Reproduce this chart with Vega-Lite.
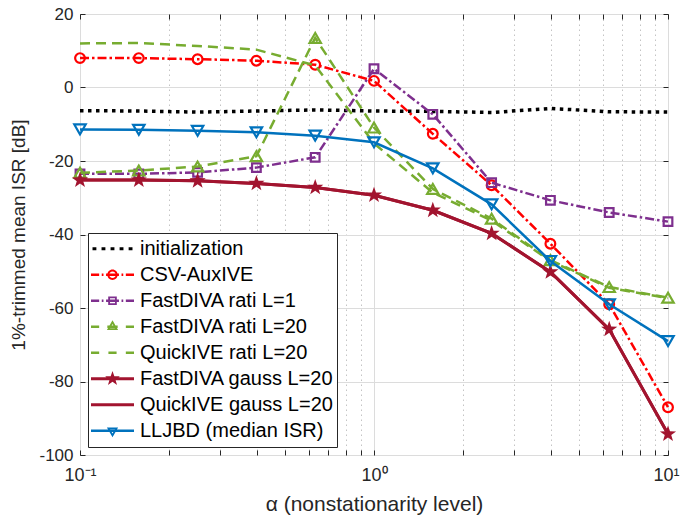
{
  "$schema": "https://vega.github.io/schema/vega-lite/v6.json",
  "width": 588,
  "height": 441,
  "autosize": {"type": "none"},
  "padding": {"left": 80, "top": 14, "right": 12, "bottom": 64},
  "background": "white",
  "config": {
    "view": {"stroke": "#262626", "strokeWidth": 1},
    "font": "Liberation Sans"
  },
  "datasets": {
    "d": [
      {"s": "initialization", "a": 0.1, "v": -6.3},
      {"s": "initialization", "a": 0.1585, "v": -6.4},
      {"s": "initialization", "a": 0.2512, "v": -6.7},
      {"s": "initialization", "a": 0.3981, "v": -6.4},
      {"s": "initialization", "a": 0.631, "v": -6.1},
      {"s": "initialization", "a": 1, "v": -6.4},
      {"s": "initialization", "a": 1.585, "v": -6.5},
      {"s": "initialization", "a": 2.512, "v": -6.8},
      {"s": "initialization", "a": 3.981, "v": -5.7},
      {"s": "initialization", "a": 6.31, "v": -6.6},
      {"s": "initialization", "a": 10, "v": -6.7},
      {"s": "CSV-AuxIVE", "a": 0.1, "v": 8},
      {"s": "CSV-AuxIVE", "a": 0.1585, "v": 8},
      {"s": "CSV-AuxIVE", "a": 0.2512, "v": 7.7},
      {"s": "CSV-AuxIVE", "a": 0.3981, "v": 7.3},
      {"s": "CSV-AuxIVE", "a": 0.631, "v": 6.2},
      {"s": "CSV-AuxIVE", "a": 1, "v": 1.8},
      {"s": "CSV-AuxIVE", "a": 1.585, "v": -12.6},
      {"s": "CSV-AuxIVE", "a": 2.512, "v": -26.6},
      {"s": "CSV-AuxIVE", "a": 3.981, "v": -42.5},
      {"s": "CSV-AuxIVE", "a": 6.31, "v": -59},
      {"s": "CSV-AuxIVE", "a": 10, "v": -87},
      {"s": "FastDIVA rati L=1", "a": 0.1, "v": -23.5},
      {"s": "FastDIVA rati L=1", "a": 0.1585, "v": -23.5},
      {"s": "FastDIVA rati L=1", "a": 0.2512, "v": -23.1},
      {"s": "FastDIVA rati L=1", "a": 0.3981, "v": -21.8},
      {"s": "FastDIVA rati L=1", "a": 0.631, "v": -19},
      {"s": "FastDIVA rati L=1", "a": 1, "v": 5.1},
      {"s": "FastDIVA rati L=1", "a": 1.585, "v": -7.3},
      {"s": "FastDIVA rati L=1", "a": 2.512, "v": -25.9},
      {"s": "FastDIVA rati L=1", "a": 3.981, "v": -30.7},
      {"s": "FastDIVA rati L=1", "a": 6.31, "v": -34},
      {"s": "FastDIVA rati L=1", "a": 10, "v": -36.5},
      {"s": "FastDIVA rati L=20", "a": 0.1, "v": -23.2},
      {"s": "FastDIVA rati L=20", "a": 0.1585, "v": -22.6},
      {"s": "FastDIVA rati L=20", "a": 0.2512, "v": -21.5},
      {"s": "FastDIVA rati L=20", "a": 0.3981, "v": -18.7},
      {"s": "FastDIVA rati L=20", "a": 0.631, "v": 13.5},
      {"s": "FastDIVA rati L=20", "a": 1, "v": -10.9},
      {"s": "FastDIVA rati L=20", "a": 1.585, "v": -27.6},
      {"s": "FastDIVA rati L=20", "a": 2.512, "v": -35.7},
      {"s": "FastDIVA rati L=20", "a": 3.981, "v": -47},
      {"s": "FastDIVA rati L=20", "a": 6.31, "v": -54.3},
      {"s": "FastDIVA rati L=20", "a": 10, "v": -57.2},
      {"s": "QuickIVE rati L=20", "a": 0.1, "v": 12},
      {"s": "QuickIVE rati L=20", "a": 0.1585, "v": 12.1},
      {"s": "QuickIVE rati L=20", "a": 0.2512, "v": 11.3},
      {"s": "QuickIVE rati L=20", "a": 0.3981, "v": 10.3},
      {"s": "QuickIVE rati L=20", "a": 0.631, "v": 6},
      {"s": "QuickIVE rati L=20", "a": 1, "v": -15.2},
      {"s": "QuickIVE rati L=20", "a": 1.585, "v": -28.6},
      {"s": "QuickIVE rati L=20", "a": 2.512, "v": -36.2},
      {"s": "QuickIVE rati L=20", "a": 3.981, "v": -47.2},
      {"s": "QuickIVE rati L=20", "a": 6.31, "v": -54.5},
      {"s": "QuickIVE rati L=20", "a": 10, "v": -57.3},
      {"s": "FastDIVA gauss L=20", "a": 0.1, "v": -25.2},
      {"s": "FastDIVA gauss L=20", "a": 0.1585, "v": -25.2},
      {"s": "FastDIVA gauss L=20", "a": 0.2512, "v": -25.4},
      {"s": "FastDIVA gauss L=20", "a": 0.3981, "v": -26.1},
      {"s": "FastDIVA gauss L=20", "a": 0.631, "v": -27.2},
      {"s": "FastDIVA gauss L=20", "a": 1, "v": -29.3},
      {"s": "FastDIVA gauss L=20", "a": 1.585, "v": -33.4},
      {"s": "FastDIVA gauss L=20", "a": 2.512, "v": -39.7},
      {"s": "FastDIVA gauss L=20", "a": 3.981, "v": -50.2},
      {"s": "FastDIVA gauss L=20", "a": 6.31, "v": -65.8},
      {"s": "FastDIVA gauss L=20", "a": 10, "v": -94.3},
      {"s": "QuickIVE gauss L=20", "a": 0.1, "v": -25.2},
      {"s": "QuickIVE gauss L=20", "a": 0.1585, "v": -25.2},
      {"s": "QuickIVE gauss L=20", "a": 0.2512, "v": -25.4},
      {"s": "QuickIVE gauss L=20", "a": 0.3981, "v": -26.1},
      {"s": "QuickIVE gauss L=20", "a": 0.631, "v": -27.2},
      {"s": "QuickIVE gauss L=20", "a": 1, "v": -29.3},
      {"s": "QuickIVE gauss L=20", "a": 1.585, "v": -33.4},
      {"s": "QuickIVE gauss L=20", "a": 2.512, "v": -39.7},
      {"s": "QuickIVE gauss L=20", "a": 3.981, "v": -50.2},
      {"s": "QuickIVE gauss L=20", "a": 6.31, "v": -65.8},
      {"s": "QuickIVE gauss L=20", "a": 10, "v": -94.3},
      {"s": "LLJBD (median ISR)", "a": 0.1, "v": -11.4},
      {"s": "LLJBD (median ISR)", "a": 0.1585, "v": -11.5},
      {"s": "LLJBD (median ISR)", "a": 0.2512, "v": -11.8},
      {"s": "LLJBD (median ISR)", "a": 0.3981, "v": -12.2},
      {"s": "LLJBD (median ISR)", "a": 0.631, "v": -13.1},
      {"s": "LLJBD (median ISR)", "a": 1, "v": -14.9},
      {"s": "LLJBD (median ISR)", "a": 1.585, "v": -22},
      {"s": "LLJBD (median ISR)", "a": 2.512, "v": -31.8},
      {"s": "LLJBD (median ISR)", "a": 3.981, "v": -47.2},
      {"s": "LLJBD (median ISR)", "a": 6.31, "v": -59},
      {"s": "LLJBD (median ISR)", "a": 10, "v": -69}
    ]
  },
  "data": {"name": "d"},
  "encoding": {
    "x": {"field": "a", "type": "quantitative", "scale": {"type": "log", "domain": [0.1, 10]}, "axis": null},
    "y": {"field": "v", "type": "quantitative", "scale": {"domain": [-100, 20]}, "axis": null}
  },
  "resolve": {"axis": {"x": "independent", "y": "independent"}},
  "layer": [
    {
      "mark": {"type": "point", "opacity": 0},
      "encoding": {
        "x": {"field": "a", "type": "quantitative", "scale": {"type": "log", "domain": [0.1, 10]},
          "axis": {"orient": "bottom", "values": [0.1,0.2,0.3,0.4,0.5,0.6,0.7,0.8,0.9,1,2,3,4,5,6,7,8,9,10],
            "labelExpr": "datum.value == 0.1 ? '10⁻¹' : (datum.value == 1 ? '10⁰' : (datum.value == 10 ? '10¹' : ''))",
            "labelOverlap": false, "labelBound": false, "labelFlush": false,
            "labelAlign": {"condition": {"test": "datum.value == 10", "value": "right"}, "value": "center"},
            "labelOffset": {"condition": {"test": "datum.value == 10", "value": 11}, "value": 0},
            "labelFont": "Liberation Sans", "labelFontSize": 18, "labelColor": "#262626", "labelPadding": 16,
            "grid": true,
            "gridColor": {"condition": {"test": "datum.value == 0.1 || datum.value == 1 || datum.value == 10", "value": "#dcdcdc"}, "value": "#c4c4c4"},
            "gridDash": {"condition": {"test": "datum.value == 0.1 || datum.value == 1 || datum.value == 10", "value": []}, "value": [1.5, 3.5]},
            "domain": false, "ticks": true, "tickSize": -5, "tickColor": "#262626", "tickWidth": 1,
            "title": "α (nonstationarity level)", "titleFont": "Liberation Sans", "titleFontSize": 21, "titleFontWeight": "normal", "titleColor": "#262626", "titlePadding": 9}},
        "y": {"field": "v", "type": "quantitative", "scale": {"domain": [-100, 20]},
          "axis": {"orient": "left", "values": [-100,-80,-60,-40,-20,0,20],
            "labelExpr": "'' + datum.value",
            "labelFont": "Liberation Sans", "labelFontSize": 17, "labelColor": "#262626", "labelPadding": 12,
            "grid": true, "gridColor": "#dcdcdc",
            "domain": false, "ticks": true, "tickSize": -5, "tickColor": "#262626", "tickWidth": 1,
            "title": "1%-trimmed mean ISR [dB]", "titleFont": "Liberation Sans", "titleFontSize": 19, "titleFontWeight": "normal", "titleColor": "#262626", "titlePadding": 10}}
      }
    },
    {
      "mark": {"type": "point", "opacity": 0},
      "encoding": {
        "x": {"field": "a", "type": "quantitative", "scale": {"type": "log", "domain": [0.1, 10]},
          "axis": {"orient": "top", "values": [0.1,0.2,0.3,0.4,0.5,0.6,0.7,0.8,0.9,1,2,3,4,5,6,7,8,9,10], "labels": false, "grid": false, "domain": false, "tickSize": -5, "tickColor": "#262626", "title": null}},
        "y": {"field": "v", "type": "quantitative", "scale": {"domain": [-100, 20]},
          "axis": {"orient": "right", "values": [-100,-80,-60,-40,-20,0,20], "labels": false, "grid": false, "domain": false, "tickSize": -5, "tickColor": "#262626", "title": null}}
      }
    },
    {
      "transform": [{"filter": "datum.s == 'initialization'"}],
      "mark": {"type": "line", "color": "#000000", "strokeWidth": 3.5, "strokeDash": [3.5, 4.5]},
      "encoding": {}
    },
    {
      "transform": [{"filter": "datum.s == 'CSV-AuxIVE'"}],
      "mark": {"type": "line", "color": "#FF0000", "strokeWidth": 2.5, "strokeDash": [9, 3, 2.5, 3]},
      "encoding": {}
    },
    {
      "transform": [{"filter": "datum.s == 'CSV-AuxIVE'"}],
      "mark": {"type": "point", "shape": "circle", "filled": false, "color": "#FF0000", "strokeWidth": 2.2, "size": 95, "opacity": 1},
      "encoding": {}
    },
    {
      "transform": [{"filter": "datum.s == 'FastDIVA rati L=1'"}],
      "mark": {"type": "line", "color": "#7E2F8E", "strokeWidth": 2.5, "strokeDash": [9, 3, 2.5, 3]},
      "encoding": {}
    },
    {
      "transform": [{"filter": "datum.s == 'FastDIVA rati L=1'"}],
      "mark": {"type": "point", "shape": "square", "filled": false, "color": "#7E2F8E", "strokeWidth": 2.2, "size": 75, "opacity": 1},
      "encoding": {}
    },
    {
      "transform": [{"filter": "datum.s == 'FastDIVA rati L=20'"}],
      "mark": {"type": "line", "color": "#77AC30", "strokeWidth": 2.5, "strokeDash": [10, 6]},
      "encoding": {}
    },
    {
      "transform": [{"filter": "datum.s == 'FastDIVA rati L=20'"}],
      "mark": {"type": "point", "shape": "triangle-up", "filled": false, "color": "#77AC30", "strokeWidth": 2.2, "size": 130, "opacity": 1},
      "encoding": {}
    },
    {
      "transform": [{"filter": "datum.s == 'QuickIVE rati L=20'"}],
      "mark": {"type": "line", "color": "#77AC30", "strokeWidth": 2.5, "strokeDash": [10, 6]},
      "encoding": {}
    },
    {
      "transform": [{"filter": "datum.s == 'FastDIVA gauss L=20'"}],
      "mark": {"type": "line", "color": "#A2142F", "strokeWidth": 3},
      "encoding": {}
    },
    {
      "transform": [{"filter": "datum.s == 'FastDIVA gauss L=20'"}],
      "mark": {"type": "point", "shape": "M0,-1L0.2351,-0.3236L0.9511,-0.309L0.3804,0.1236L0.5878,0.809L0,0.4L-0.5878,0.809L-0.3804,0.1236L-0.9511,-0.309L-0.2351,-0.3236Z", "filled": true, "color": "#A2142F", "size": 290, "opacity": 1},
      "encoding": {}
    },
    {
      "transform": [{"filter": "datum.s == 'QuickIVE gauss L=20'"}],
      "mark": {"type": "line", "color": "#A2142F", "strokeWidth": 3},
      "encoding": {}
    },
    {
      "transform": [{"filter": "datum.s == 'LLJBD (median ISR)'"}],
      "mark": {"type": "line", "color": "#0072BD", "strokeWidth": 2.5},
      "encoding": {}
    },
    {
      "transform": [{"filter": "datum.s == 'LLJBD (median ISR)'"}],
      "mark": {"type": "point", "shape": "triangle-down", "filled": false, "color": "#0072BD", "strokeWidth": 2.2, "size": 130, "opacity": 1},
      "encoding": {}
    },
    {
      "transform": [{"filter": "false"}],
      "mark": {"type": "point", "filled": true, "opacity": 1, "strokeWidth": 0},
      "encoding": {
        "color": {"field": "s", "type": "nominal",
          "scale": {"domain": ["initialization", "CSV-AuxIVE", "FastDIVA rati L=1", "FastDIVA rati L=20", "QuickIVE rati L=20", "FastDIVA gauss L=20", "QuickIVE gauss L=20", "LLJBD (median ISR)"],
            "range": ["#000000", "#FF0000", "#7E2F8E", "#77AC30", "#77AC30", "#A2142F", "#A2142F", "#0072BD"]},
          "legend": {"title": null, "orient": "bottom-left", "offset": 8, "padding": 3, "rowPadding": 0, "clipHeight": 25.5,
            "symbolSize": 1849, "symbolStrokeWidth": 0, "symbolOpacity": 1,
            "labelFont": "Liberation Sans", "labelFontSize": 20, "labelColor": "#000000", "labelOffset": 6, "labelLimit": 400,
            "strokeColor": "#262626", "fillColor": "white"}},
        "shape": {"field": "s", "type": "nominal",
          "scale": {"domain": ["initialization", "CSV-AuxIVE", "FastDIVA rati L=1", "FastDIVA rati L=20", "QuickIVE rati L=20", "FastDIVA gauss L=20", "QuickIVE gauss L=20", "LLJBD (median ISR)"],
            "range": [
              "M-0.93,-0.075H-0.75V0.075H-0.93Z M-0.51,-0.075H-0.33V0.075H-0.51Z M-0.09,-0.075H0.09V0.075H-0.09Z M0.33,-0.075H0.51V0.075H0.33Z M0.75,-0.075H0.93V0.075H0.75Z",
              "M-1,-0.058H-0.62V0.058H-1Z M-0.5,-0.058H-0.42V0.058H-0.5Z M-0.3,-0.058H0.3V0.058H-0.3Z M0.42,-0.058H0.5V0.058H0.42Z M0.62,-0.058H1V0.058H0.62Z M0.24,0A0.24,0.24 0 1,1 -0.24,0A0.24,0.24 0 1,1 0.24,0Z M0.155,0A0.155,0.155 0 1,0 -0.155,0A0.155,0.155 0 1,0 0.155,0Z",
              "M-1,-0.058H-0.62V0.058H-1Z M-0.5,-0.058H-0.42V0.058H-0.5Z M-0.3,-0.058H0.3V0.058H-0.3Z M0.42,-0.058H0.5V0.058H0.42Z M0.62,-0.058H1V0.058H0.62Z M-0.2,-0.2H0.2V0.2H-0.2Z M-0.115,-0.115V0.115H0.115V-0.115Z",
              "M-1,-0.058H-0.62V0.058H-1Z M-0.24,-0.058H0.24V0.058H-0.24Z M0.62,-0.058H1V0.058H0.62Z M0,-0.3L0.26,0.15L-0.26,0.15Z M0,-0.13L-0.1126,0.065L0.1126,0.065Z",
              "M-1,-0.058H-0.62V0.058H-1Z M-0.19,-0.058H0.19V0.058H-0.19Z M0.62,-0.058H1V0.058H0.62Z",
              "M-1,-0.07H1V0.07H-1Z M0,-0.36L0.0852,-0.1173L0.3424,-0.1112L0.1379,0.0448L0.2116,0.2912L0,0.145L-0.2116,0.2912L-0.1379,0.0448L-0.3424,-0.1112L-0.0852,-0.1173Z",
              "M-1,-0.07H1V0.07H-1Z",
              "M-1,-0.058H1V0.058H-1Z M0,0.3L-0.26,-0.15L0.26,-0.15Z M0,0.13L0.1126,-0.065L-0.1126,-0.065Z"
            ]},
          "legend": {"title": null}}
      }
    }
  ]
}
